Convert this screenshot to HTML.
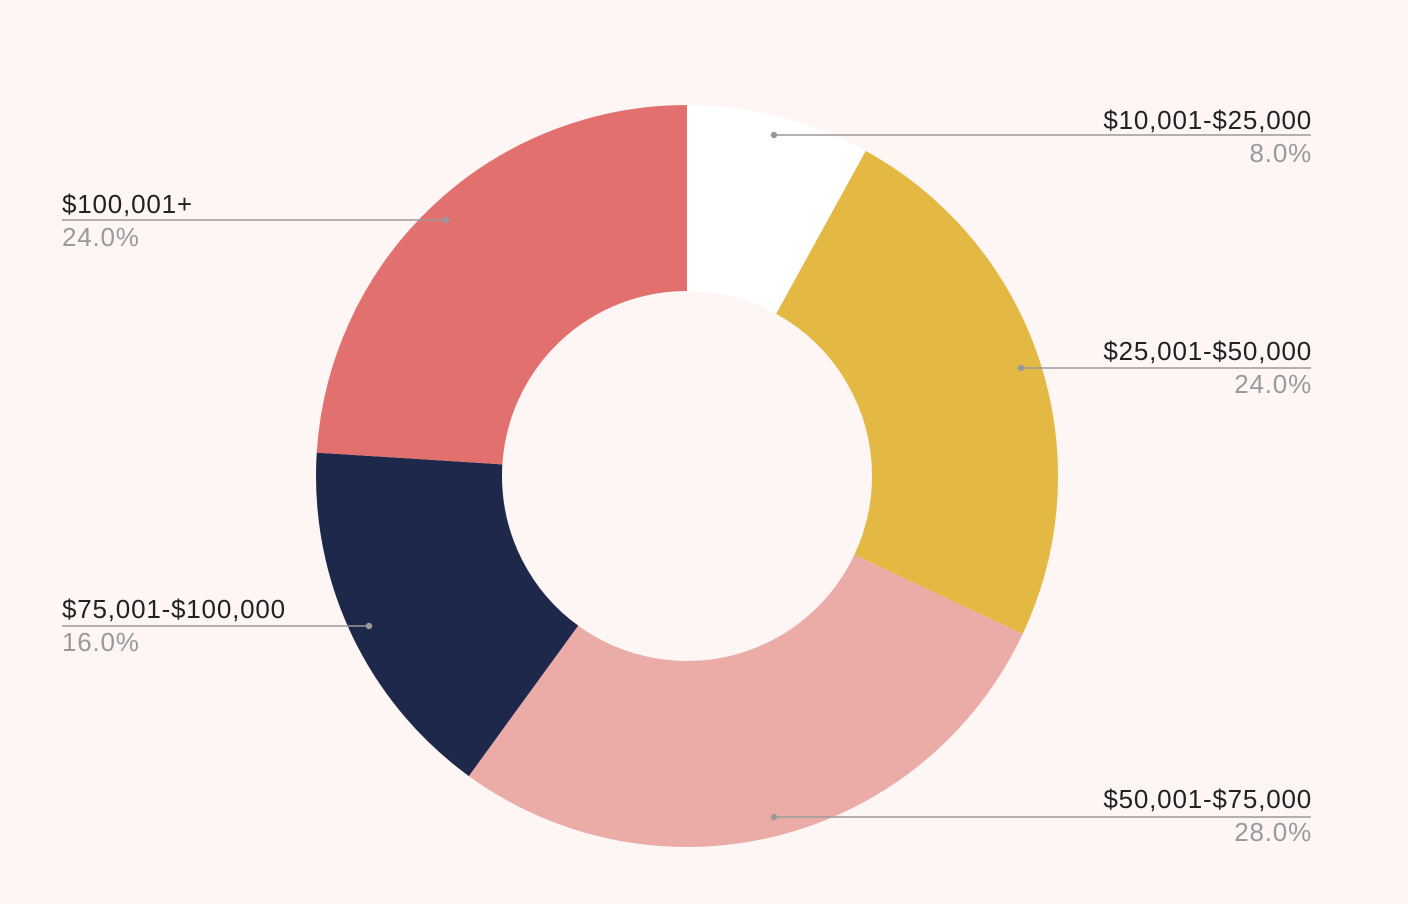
<!DOCTYPE html>
<html><head><style>
body{margin:0;background:#fdf6f5;}
svg{display:block}
text{font-family:"Liberation Sans",sans-serif;font-size:26px;letter-spacing:0.8px}
.l{fill:#222}.p{fill:#9a9a9a}
</style></head><body>
<svg width="1408" height="904" viewBox="0 0 1408 904">
<rect width="1408" height="904" fill="#fdf6f5"/>
<g transform="translate(687,476) rotate(-90)" fill="none" stroke-width="186">
<circle r="278" stroke="#ffffff" stroke-dasharray="139.74 1746.7" stroke-dashoffset="0"/>
<circle r="278" stroke="#e3b944" stroke-dasharray="419.21 1746.7" stroke-dashoffset="-139.74"/>
<circle r="278" stroke="#ebaca7" stroke-dasharray="489.08 1746.7" stroke-dashoffset="-558.95"/>
<circle r="278" stroke="#1d284b" stroke-dasharray="279.47 1746.7" stroke-dashoffset="-1048.03"/>
<circle r="278" stroke="#e1706e" stroke-dasharray="419.21 1746.7" stroke-dashoffset="-1327.5"/>
</g>
<g stroke="#999" stroke-width="1.5" fill="#999">
<line x1="774" y1="135" x2="1311" y2="135"/><circle cx="774" cy="135" r="2.5"/>
<line x1="1021" y1="368" x2="1311" y2="368"/><circle cx="1021" cy="368" r="2.5"/>
<line x1="774" y1="817" x2="1311" y2="817"/><circle cx="774" cy="817" r="2.5"/>
<line x1="62" y1="626" x2="369" y2="626"/><circle cx="369" cy="626" r="2.5"/>
<line x1="62" y1="220" x2="446" y2="220"/><circle cx="446" cy="220" r="2.5"/>
</g>
<g text-anchor="end">
<text class="l" x="1312" y="129">$10,001-$25,000</text><text class="p" x="1312" y="162">8.0%</text>
<text class="l" x="1312" y="360">$25,001-$50,000</text><text class="p" x="1312" y="393">24.0%</text>
<text class="l" x="1312" y="808">$50,001-$75,000</text><text class="p" x="1312" y="841">28.0%</text>
</g>
<text class="l" x="62" y="213">$100,001+</text><text class="p" x="62" y="246">24.0%</text>
<text class="l" x="62" y="618">$75,001-$100,000</text><text class="p" x="62" y="651">16.0%</text>
</svg>
</body></html>
